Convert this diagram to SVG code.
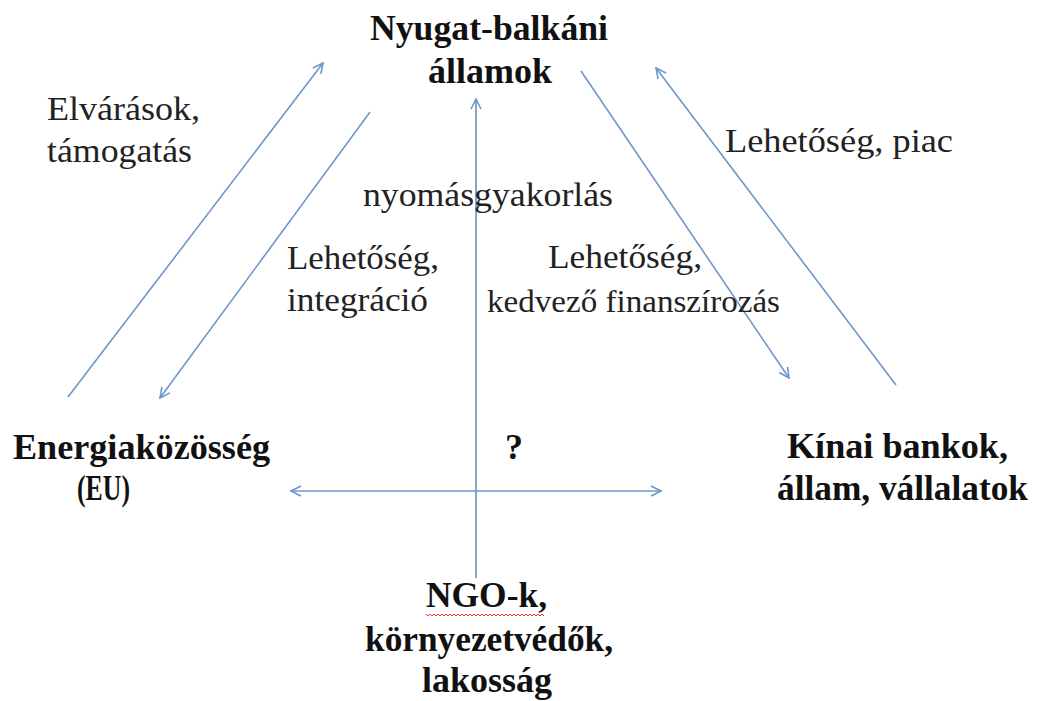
<svg xmlns="http://www.w3.org/2000/svg" width="1037" height="701" viewBox="0 0 1037 701" font-family="Liberation Serif, Times New Roman, Times, DejaVu Serif, serif">
<style>
.b{font-weight:bold;font-size:36px;fill:#111}
.r{font-size:34px;fill:#222}
.s{font-size:31px}
.c{stroke:#7096c8;stroke-width:1.6;fill:none}
</style>
<defs>
<marker id="ah" viewBox="0 0 12 12" refX="11" refY="6" markerWidth="12" markerHeight="12" orient="auto-start-reverse" markerUnits="userSpaceOnUse">
<path d="M1,1 L11,6 L1,11" fill="none" stroke="#7096c8" stroke-width="1.6"/>
</marker>
</defs>
<rect width="1037" height="701" fill="#fff"/>
<g id="connectors">
<line class="c" x1="68" y1="397" x2="323" y2="63" marker-end="url(#ah)"/>
<line class="c" x1="370" y1="112" x2="160" y2="398" marker-end="url(#ah)"/>
<line class="c" x1="581" y1="71" x2="789" y2="378" marker-end="url(#ah)"/>
<line class="c" x1="896" y1="385" x2="656" y2="68" marker-end="url(#ah)"/>
<line class="c" x1="476" y1="578" x2="476" y2="99" marker-end="url(#ah)" style="stroke-width:2;stroke:#86a6d2"/>
<line class="c" x1="291" y1="491" x2="661" y2="491" marker-start="url(#ah)" marker-end="url(#ah)"/>
</g>
<g id="labels" font-family="Liberation Serif, serif">
<text class="r" x="47" y="120" textLength="153" lengthAdjust="spacingAndGlyphs">Elvárások,</text>
<text class="r" x="47" y="162" textLength="145" lengthAdjust="spacingAndGlyphs">támogatás</text>
<text class="r" x="363" y="206" textLength="250" lengthAdjust="spacingAndGlyphs">nyomásgyakorlás</text>
<text class="r" x="287" y="269" textLength="152" lengthAdjust="spacingAndGlyphs">Lehetőség,</text>
<text class="r" x="287" y="311" textLength="141" lengthAdjust="spacingAndGlyphs">integráció</text>
<text class="r" x="548" y="268" textLength="154" lengthAdjust="spacingAndGlyphs">Lehetőség,</text>
<text class="r s" x="487" y="312" textLength="293" lengthAdjust="spacingAndGlyphs">kedvező finanszírozás</text>
<text class="r" x="725" y="152" textLength="228" lengthAdjust="spacingAndGlyphs">Lehetőség, piac</text>
<text class="b" x="505" y="459">?</text>
</g>
<g id="node-nyugat" font-family="Liberation Serif, serif">
<text class="b" x="370" y="40" textLength="238" lengthAdjust="spacingAndGlyphs">Nyugat-balkáni</text>
<text class="b" x="428" y="83" textLength="124" lengthAdjust="spacingAndGlyphs">államok</text>
</g>
<g id="node-energia" font-family="Liberation Serif, serif">
<text class="b" x="13" y="459" textLength="257" lengthAdjust="spacingAndGlyphs">Energiaközösség</text>
<text class="b" x="77" y="500" textLength="53" lengthAdjust="spacingAndGlyphs">(EU)</text>
</g>
<g id="node-kinai" font-family="Liberation Serif, serif">
<text class="b" x="787" y="458" textLength="221" lengthAdjust="spacingAndGlyphs">Kínai bankok,</text>
<text class="b" x="777" y="500" textLength="251" lengthAdjust="spacingAndGlyphs">állam, vállalatok</text>
</g>
<g id="node-ngo" font-family="Liberation Serif, serif">
<text class="b" x="426" y="607" textLength="121" lengthAdjust="spacingAndGlyphs">NGO-k,</text>
<path d="M426,614 l2,2 l2,-2 l2,2 l2,-2 l2,2 l2,-2 l2,2 l2,-2 l2,2 l2,-2 l2,2 l2,-2 l2,2 l2,-2 l2,2 l2,-2 l2,2 l2,-2 l2,2 l2,-2 l2,2 l2,-2 l2,2 l2,-2 l2,2 l2,-2 l2,2 l2,-2 l2,2 l2,-2 l2,2 l2,-2 l2,2 l2,-2 l2,2 l2,-2 l2,2 l2,-2 l2,2 l2,-2 l2,2 l2,-2 l2,2 l2,-2 l2,2 l2,-2 l2,2 l2,-2 l2,2 l2,-2 l2,2 l2,-2 l2,2 l2,-2 l2,2 l2,-2 l2,2 l2,-2 l2,2" fill="none" stroke="#e03a3a" stroke-width="1"/>
<text class="b" x="365" y="651" textLength="248" lengthAdjust="spacingAndGlyphs">környezetvédők,</text>
<text class="b" x="422" y="692" textLength="130" lengthAdjust="spacingAndGlyphs">lakosság</text>
</g>
</svg>
